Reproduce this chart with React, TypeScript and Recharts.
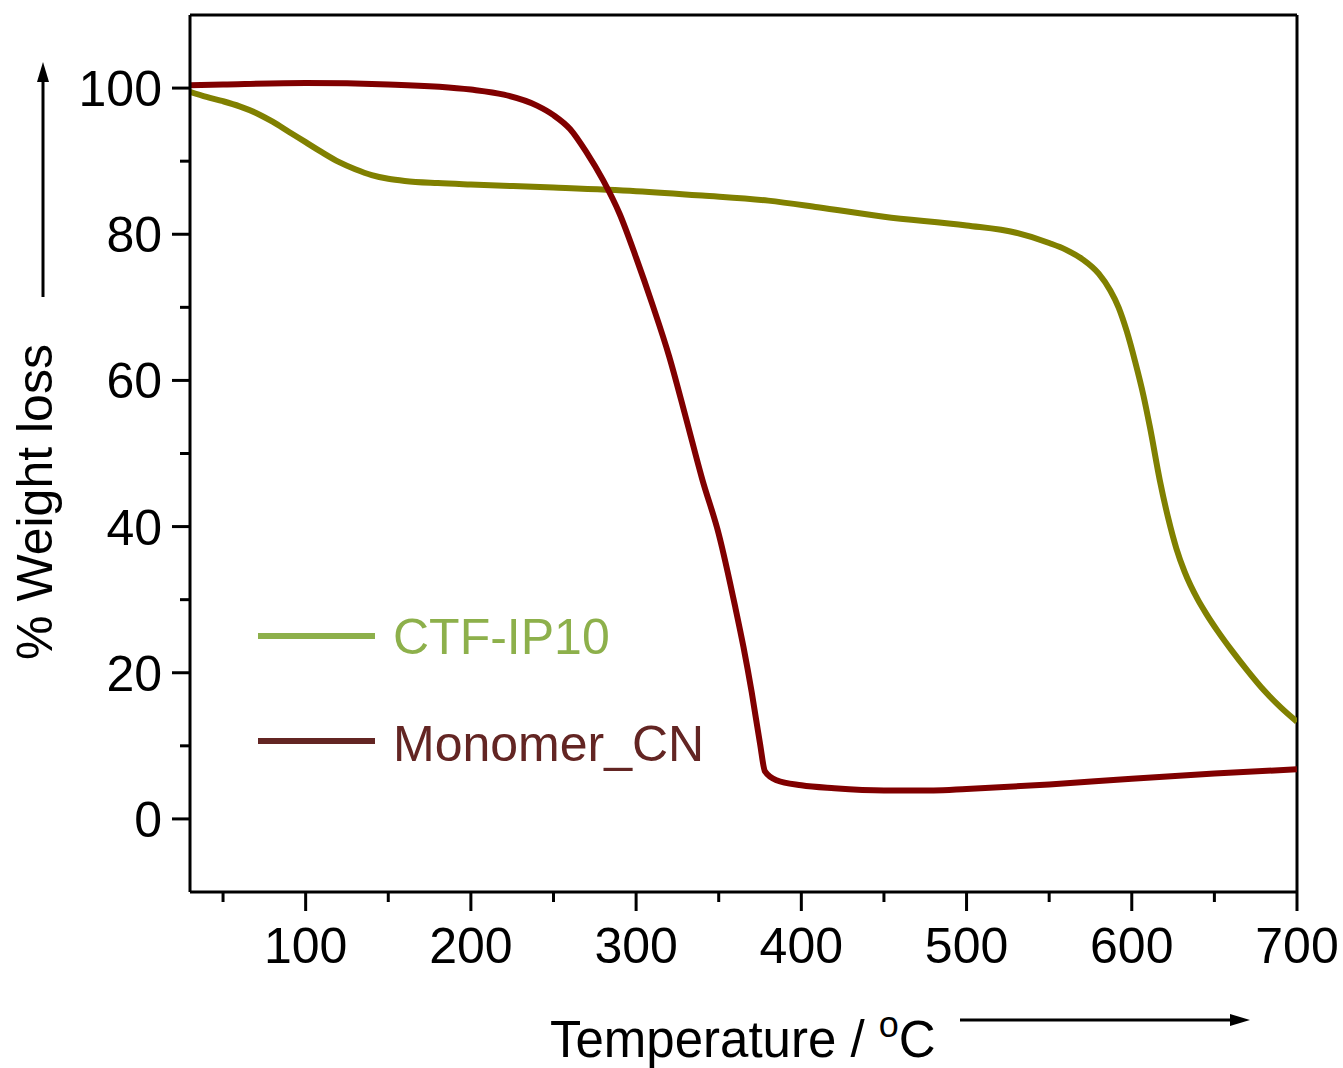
import React from "react";
import { LineChart, Line, XAxis, YAxis, ReferenceLine, Legend } from "recharts";

// CTF-IP10 (olive) TGA trace
const ctfTemp = [30, 40, 50, 60, 70, 80, 90, 100, 110, 120, 130, 140, 150, 160, 180, 200, 250, 300, 340, 380, 410, 450, 500, 530, 550, 560, 570, 580, 587, 592, 597, 602, 607, 611, 617, 622, 627, 632, 640, 645, 652, 660, 670, 680, 690, 700];
const ctfWeight = [99.5, 98.8, 98.2, 97.5, 96.6, 95.4, 94.0, 92.6, 91.2, 89.9, 88.9, 88.1, 87.6, 87.3, 87.0, 86.8, 86.4, 85.9, 85.3, 84.6, 83.7, 82.4, 81.2, 80.2, 78.8, 77.9, 76.6, 74.6, 72.3, 70.0, 66.7, 62.6, 58.0, 53.6, 46.3, 41.2, 37.0, 33.8, 30.0, 28.1, 25.7, 23.2, 20.3, 17.6, 15.3, 13.3];

// Monomer_CN (dark red) TGA trace
const monoTemp = [30, 50, 100, 150, 200, 220, 240, 250, 260, 270, 280, 290, 300, 310, 320, 330, 340, 350, 360, 365, 370, 375, 378, 385, 400, 420, 450, 480, 500, 550, 600, 650, 700];
const monoWeight = [100.4, 100.5, 100.7, 100.5, 99.8, 99.1, 97.6, 96.3, 94.4, 91.2, 87.4, 82.8, 76.8, 70.3, 63.3, 55.0, 46.5, 39.0, 29.0, 23.5, 17.3, 10.3, 6.5, 5.3, 4.6, 4.2, 3.9, 3.9, 4.1, 4.7, 5.5, 6.2, 6.8];

const xTicks = [50, 100, 150, 200, 250, 300, 350, 400, 450, 500, 550, 600, 650, 700];
const yTicks = [0, 10, 20, 30, 40, 50, 60, 70, 80, 90, 100];

const seriesNames = ["CTF-IP10", "Monomer_CN"];

const ctfData = ctfTemp.map((t, i) => ({ t, w: ctfWeight[i] }));
const monoData = monoTemp.map((t, i) => ({ t, w: monoWeight[i] }));

const FONT = "'Liberation Sans', Arial, sans-serif";

function XTick({ x, y, payload }: any) {
  const major = payload.value % 100 === 0;
  return (
    <g>
      <line x1={x} x2={x} y1={y} y2={y + (major ? 19 : 10)} stroke="#000" strokeWidth={3} />
      {major && (
        <text x={x} y={y + 71} textAnchor="middle" fontFamily={FONT} fontSize={50} fill="#000">
          {payload.value}
        </text>
      )}
    </g>
  );
}

function YTick({ x, y, payload }: any) {
  const major = payload.value % 20 === 0;
  return (
    <g>
      <line x1={x} x2={x - (major ? 18 : 10)} y1={y} y2={y} stroke="#000" strokeWidth={3} />
      {major && (
        <text x={x - 28} y={y + 18} textAnchor="end" fontFamily={FONT} fontSize={50} fill="#000">
          {payload.value}
        </text>
      )}
    </g>
  );
}

function LegendBox() {
  return (
    <svg width={500} height={190} style={{ display: "block" }}>
      <line x1={8} x2={125} y1={46} y2={46} stroke="#8db04b" strokeWidth={6} />
      <text x={143} y={64} fontFamily={FONT} fontSize={50} fill="#8db04b">{seriesNames[0]}</text>
      <line x1={8} x2={125} y1={151} y2={151} stroke="#632523" strokeWidth={6} />
      <text x={143} y={171} fontFamily={FONT} fontSize={50} fill="#632523">{seriesNames[1]}</text>
    </svg>
  );
}

export default function App() {
  return (
    <div style={{ position: "absolute", left: 0, top: 0, width: 1343, height: 1068, background: "#fff" }}>
      <LineChart width={1343} height={1068} margin={{ top: 15, right: 46, bottom: 0, left: 0 }}>
        <XAxis
          dataKey="t"
          type="number"
          domain={[30, 700]}
          ticks={xTicks}
          allowDataOverflow
          height={176}
          tickSize={0}
          tickMargin={0}
          tickLine={false}
          axisLine={{ stroke: "#000", strokeWidth: 3 }}
          tick={<XTick />}
          interval={0}
        />
        <YAxis
          type="number"
          domain={[-10, 110]}
          ticks={yTicks}
          allowDataOverflow
          width={190}
          tickSize={0}
          tickMargin={0}
          tickLine={false}
          axisLine={{ stroke: "#000", strokeWidth: 3 }}
          tick={<YTick />}
          interval={0}
        />
        <ReferenceLine y={110} stroke="#000" strokeWidth={3} />
        <ReferenceLine x={700} stroke="#000" strokeWidth={3} />
        <Legend
          layout="horizontal"
          verticalAlign="middle"
          align="center"
          wrapperStyle={{ left: 250, top: 590, width: 500, height: 190 }}
          content={() => <LegendBox />}
        />
        <Line
          data={ctfData}
          dataKey="w"
          name={seriesNames[0]}
          type="monotone"
          stroke="#808000"
          strokeWidth={6}
          dot={false}
          isAnimationActive={false}
        />
        <Line
          data={monoData}
          dataKey="w"
          name={seriesNames[1]}
          type="monotone"
          stroke="#800000"
          strokeWidth={6}
          dot={false}
          isAnimationActive={false}
        />
      </LineChart>
      <svg
        width={1343}
        height={1068}
        style={{ position: "absolute", left: 0, top: 0, pointerEvents: "none" }}
      >
        {/* y axis title and arrow */}
        <text
          transform="translate(52,502) rotate(-90)"
          textAnchor="middle"
          fontFamily={FONT}
          fontSize={50}
          fill="#000"
        >
          % Weight loss
        </text>
        <line x1={43} x2={43} y1={297} y2={78} stroke="#000" strokeWidth={3} />
        <polygon points="43,62 37,82 49,82" fill="#000" />
        {/* x axis title and arrow */}
        <text x={550} y={1057} fontFamily={FONT} fontSize={51} fill="#000">
          Temperature /{" "}
          <tspan dy={-20} fontSize={36}>o</tspan>
          <tspan dy={20}>C</tspan>
        </text>
        <line x1={960} x2={1234} y1={1020} y2={1020} stroke="#000" strokeWidth={3} />
        <polygon points="1250,1020 1230,1014 1230,1026" fill="#000" />
      </svg>
    </div>
  );
}
